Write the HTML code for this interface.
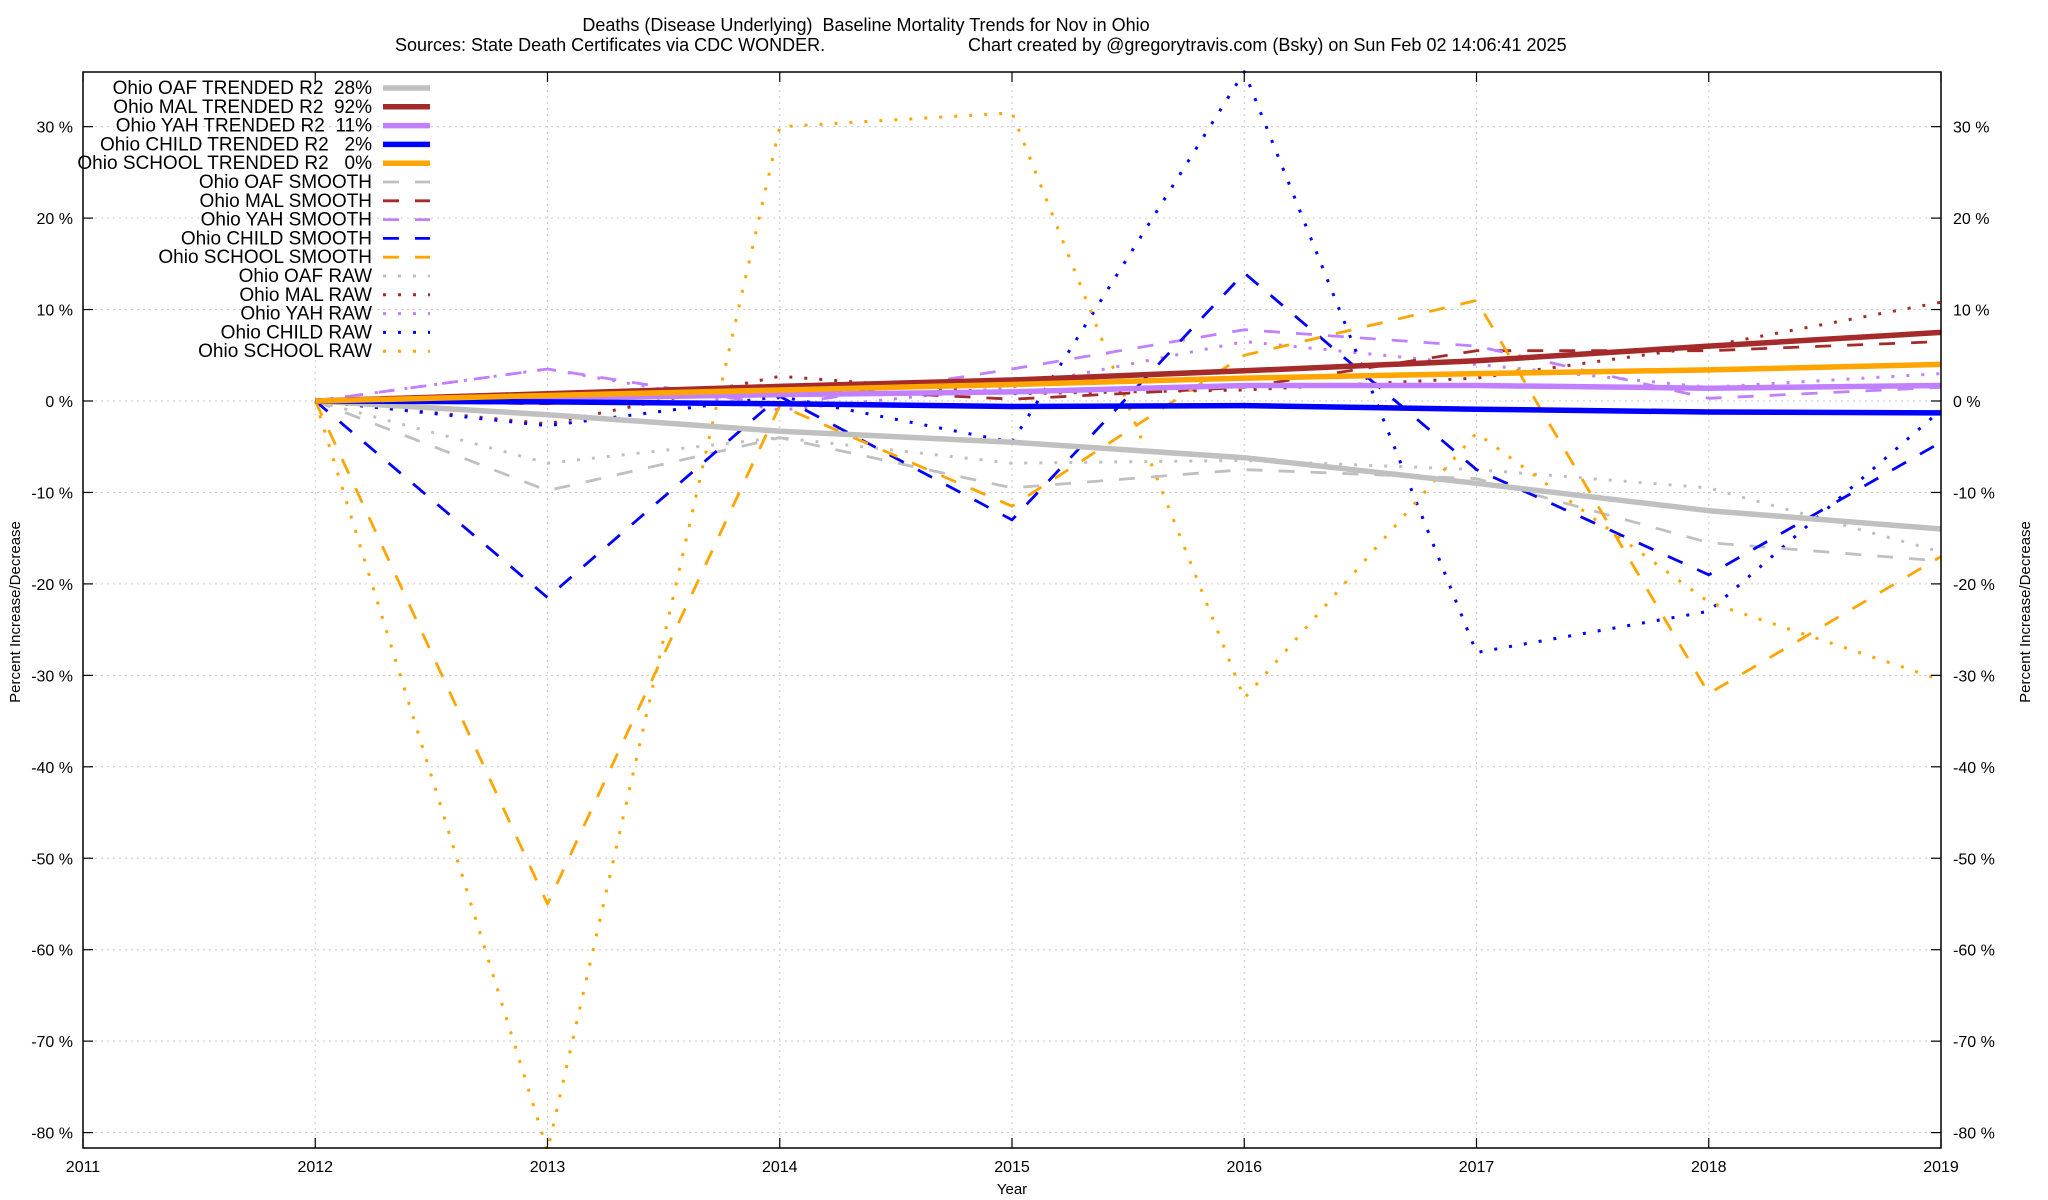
<!DOCTYPE html>
<html><head><meta charset="utf-8"><title>Ohio Baseline Mortality Trends</title>
<style>
html,body{margin:0;padding:0;background:#fff;}
svg{display:block;font-family:"Liberation Sans",Arial,sans-serif;}
</style></head>
<body>
<svg id="chart" width="2048" height="1200" viewBox="0 0 2048 1200" xmlns="http://www.w3.org/2000/svg">
<text x="866" y="31" font-size="18" text-anchor="middle" style="white-space:pre">Deaths (Disease Underlying)  Baseline Mortality Trends for Nov in Ohio</text>
<text x="395" y="51" font-size="18">Sources: State Death Certificates via CDC WONDER.</text>
<text x="968" y="51" font-size="18">Chart created by @gregorytravis.com (Bsky) on Sun Feb 02 14:06:41 2025</text>
<g id="grid"></g>
<g id="series"></g>
<rect x="83" y="72" width="1858" height="1076" fill="none" stroke="#000" stroke-width="1.5"/>
<g id="axes"></g>
<g id="legend"></g>
<text x="1012" y="1194" font-size="15" text-anchor="middle">Year</text>
<text x="0" y="0" font-size="15" text-anchor="middle" transform="translate(20,612) rotate(-90)">Percent Increase/Decrease</text>
<text x="0" y="0" font-size="15" text-anchor="middle" transform="translate(2030,612) rotate(-90)">Percent Increase/Decrease</text>
</svg>
<script>
const years = [2012,2013,2014,2015,2016,2017,2018,2019];
const xTicks = [2011,2012,2013,2014,2015,2016,2017,2018,2019];
const yTicks = [30,20,10,0,-10,-20,-30,-40,-50,-60,-70,-80];

const oafTrend = [0,-1.5,-3.3,-4.5,-6.2,-9,-12,-14];
const malTrend = [0,0.8,1.6,2.3,3.3,4.4,6,7.5];
const yahTrend = [0,0.3,0.7,1.0,1.7,1.7,1.4,1.7];
const childTrend = [0,-0.1,-0.3,-0.6,-0.5,-0.9,-1.2,-1.3];
const schoolTrend = [0,0.6,1.2,1.8,2.5,3,3.4,4];

const oafSmooth = [0,-9.8,-4,-9.5,-7.5,-8.5,-15.5,-17.5];
const malSmooth = [0,-0.3,1.5,0.2,1.5,5.5,5.5,6.5];
const yahSmooth = [0,3.5,-0.5,3.5,7.8,6,0.3,1.5];
const childSmooth = [0,-21.5,0.5,-13,14,-7.5,-19,-4.5];
const schoolSmooth = [0,-55,-0.5,-11.5,5,11,-32,-17];

const oafRaw = [0,-6.8,-4,-6.8,-6.5,-7.5,-9.5,-16.5];
const malRaw = [0,-2.5,2.7,0.8,1.2,2.5,6,10.8];
const yahRaw = [0,3.5,-1,1.5,6.5,4,1.5,3];
const childRaw = [0,-2.7,0.5,-4.5,36,-27.5,-23,-1];
const schoolRaw = [0,-82,30,31.5,-32.5,-3.5,-22,-30.5];

const NS = "http://www.w3.org/2000/svg";
const L=83,R=1941,T=72,B=1148;
function xs(yr){return L+(yr-2011)*(R-L)/8;}
function ys(v){return 401 - v*9.145;}
function mk(tag,attrs,parent){const e=document.createElementNS(NS,tag);for(const k in attrs)e.setAttribute(k,attrs[k]);parent.appendChild(e);return e;}

const grid=document.getElementById('grid');
const axes=document.getElementById('axes');
xTicks.forEach(t=>{
  const x=xs(t);
  const g=mk('line',{x1:x,x2:x,y1:T,y2:B,stroke:'#ccc','stroke-width':1,'stroke-dasharray':'2,4'},grid);
  
  
  const tk=mk('line',{x1:x,x2:x,y1:B,y2:B-10,stroke:'#000','stroke-width':1.2},axes);
  
  
  const tk2=mk('line',{x1:x,x2:x,y1:T,y2:T+10,stroke:'#000','stroke-width':1.2},axes);
  
  
  const lb=mk('text',{x:x,y:1172,'font-size':16,'text-anchor':'middle'},axes);
  lb.textContent=t;
  
  
});
yTicks.forEach(t=>{
  const y=ys(t);
  const g=mk('line',{x1:L,x2:R,y1:y,y2:y,stroke:'#ccc','stroke-width':1,'stroke-dasharray':'2,4'},grid);
  
  
  const tk=mk('line',{x1:L,x2:L+10,y1:y,y2:y,stroke:'#000','stroke-width':1.2},axes);
  
  
  const tk2=mk('line',{x1:R-10,x2:R,y1:y,y2:y,stroke:'#000','stroke-width':1.2},axes);
  
  
  const lb=mk('text',{x:73,y:y+6,'font-size':16,'text-anchor':'end'},axes);
  lb.textContent=t+' %';
  
  
  const lb2=mk('text',{x:1953,y:y+6,'font-size':16,'text-anchor':'start'},axes);
  lb2.textContent=t+' %';
  
  
});

const C={oaf:'#c0c0c0',mal:'#a52a2a',yah:'#c080ff',child:'#0000ff',school:'#ffa500'};
const styles={trend:{w:5.5,d:''},smooth:{w:2.8,d:'16,16'},raw:{w:3,d:'3,12'}};
const seriesList=[
 ['Ohio OAF TRENDED R2  28%','trend',C.oaf,oafTrend],
 ['Ohio MAL TRENDED R2  92%','trend',C.mal,malTrend],
 ['Ohio YAH TRENDED R2  11%','trend',C.yah,yahTrend],
 ['Ohio CHILD TRENDED R2   2%','trend',C.child,childTrend],
 ['Ohio SCHOOL TRENDED R2   0%','trend',C.school,schoolTrend],
 ['Ohio OAF SMOOTH','smooth',C.oaf,oafSmooth],
 ['Ohio MAL SMOOTH','smooth',C.mal,malSmooth],
 ['Ohio YAH SMOOTH','smooth',C.yah,yahSmooth],
 ['Ohio CHILD SMOOTH','smooth',C.child,childSmooth],
 ['Ohio SCHOOL SMOOTH','smooth',C.school,schoolSmooth],
 ['Ohio OAF RAW','raw',C.oaf,oafRaw],
 ['Ohio MAL RAW','raw',C.mal,malRaw],
 ['Ohio YAH RAW','raw',C.yah,yahRaw],
 ['Ohio CHILD RAW','raw',C.child,childRaw],
 ['Ohio SCHOOL RAW','raw',C.school,schoolRaw]
];
const sg=document.getElementById('series');
const order=[10,11,12,13,14,5,6,7,8,9,0,1,2,3,4];
order.forEach(i=>{
  const [name,kind,col,vals]=seriesList[i];
  const st=styles[kind];
  const pts=vals.map((v,j)=>xs(years[j]).toFixed(1)+','+ys(v).toFixed(1)).join(' ');
  const a={points:pts,fill:'none',stroke:col,'stroke-width':st.w,'stroke-linejoin':'round'};
  if(st.d)a['stroke-dasharray']=st.d;
  const p=mk('polyline',a,sg);
  
  
});
const lg=document.getElementById('legend');
seriesList.forEach((s,i)=>{
  const [name,kind,col]=s;
  const st=styles[kind];
  const y=88+i*18.8;
  const t=mk('text',{x:372,y:y+6,'font-size':19,'text-anchor':'end'},lg);
  t.style.whiteSpace='pre';
  t.textContent=name;
  
  
  const a={x1:383,x2:430,y1:y,y2:y,stroke:col,'stroke-width':st.w};
  if(st.d)a['stroke-dasharray']=st.d;
  const l=mk('line',a,lg);
  
  
});
</script>
</body></html>
